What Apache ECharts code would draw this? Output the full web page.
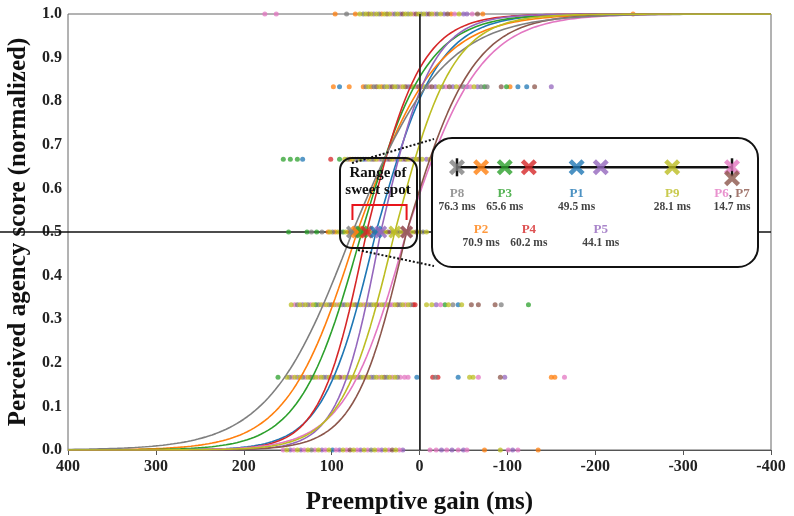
<!DOCTYPE html>
<html>
<head>
<meta charset="utf-8">
<script src="https://cdn.jsdelivr.net/npm/echarts@6/dist/echarts.min.js"></script>
<style>
html,body{margin:0;padding:0;background:#fff;}
#chart{width:794px;height:516px;}
</style>
</head>
<body>
<div id="chart"></div>
<script>
// participants
var names = ['P1','P2','P3','P4','P5','P6','P7','P8','P9'];
var colors = ['#1f77b4','#ff7f0e','#2ca02c','#d62728','#9467bd','#e377c2','#8c564b','#7f7f7f','#bcbd22'];
// 50% point of each fitted curve (ms), spread below and above it
var mids = [49.5, 70.9, 65.6, 60.2, 44.1, 14.7, 14.7, 76.3, 28.1];
var spreadsLow = [30, 40, 35, 26, 24, 35, 29, 48, 30];
var spreadsHigh = [35, 45, 37, 31, 29, 42, 38, 52, 33];

// trials: [gain, participant number] for each score level
var score0 = [[155,6],[151,9],[147,5],[143,6],[139,9],[135,5],[131,6],[127,9],[123,8],[119,6],[115,9],[111,5],[107,6],[103,9],[99,1],[95,6],[91,5],[87,9],[83,6],[79,7],[75,9],[71,6],[67,5],[63,9],[59,6],[55,8],[51,9],[47,6],[43,5],[39,9],[35,6],[31,7],[27,9],[23,6],[19,5],[-12,6],[-19,6],[-25,5],[-31,6],[-37,5],[-44,6],[-50,5],[-54,6],[-74,2],[-92,9],[-101,6],[-106,5],[-112,6],[-135,2]];
var score1 = [[161,3],[151,9],[148,8],[145,6],[142,9],[139,5],[136,9],[133,8],[130,6],[127,9],[124,7],[121,8],[118,9],[115,6],[112,9],[109,8],[106,5],[103,9],[100,6],[97,8],[94,9],[91,7],[88,6],[85,9],[82,8],[79,9],[76,6],[73,9],[70,7],[67,8],[64,9],[61,6],[58,9],[55,5],[52,8],[49,9],[46,6],[43,9],[40,7],[37,8],[34,9],[31,6],[28,9],[25,8],[22,6],[17,6],[13,6],[3,1],[-15,4],[-18,8],[-21,4],[-44,1],[-57,9],[-61,9],[-67,6],[-92,7],[-97,5],[-150,2],[-154,2],[-165,6]];
var score2 = [[146,9],[142,6],[139,8],[136,9],[133,5],[130,9],[127,8],[124,6],[121,9],[118,3],[115,8],[112,9],[109,6],[106,9],[103,8],[100,7],[97,9],[94,6],[91,9],[88,5],[85,8],[82,9],[79,6],[76,9],[73,7],[70,8],[67,9],[64,6],[61,9],[58,5],[55,8],[52,9],[49,7],[46,6],[43,9],[40,8],[37,9],[34,5],[31,6],[28,9],[25,7],[22,8],[19,9],[16,6],[13,9],[10,8],[7,4],[5,4],[-8,9],[-14,9],[-19,5],[-24,6],[-29,3],[-33,9],[-38,8],[-44,1],[-48,9],[-59,7],[-67,7],[-86,7],[-93,8],[-124,3]];
var score3 = [[149,3],[128,3],[123,8],[117,3],[111,8],[104,2],[102,9],[99,8],[96,2],[93,9],[90,8],[87,3],[84,9],[81,2],[78,8],[75,9],[72,4],[69,2],[66,9],[63,1],[60,8],[57,9],[54,5],[51,7],[48,9],[45,6],[42,8],[39,9],[36,7],[33,5],[30,9],[27,6],[24,8],[21,9],[18,7],[15,9],[12,6],[8,9],[4,7],[0,9],[-4,8],[-8,9]];
var score4 = [[155,3],[147,3],[139,3],[133,1],[101,4],[91,3],[85,9],[82,8],[79,2],[76,9],[73,5],[70,8],[67,9],[64,1],[61,5],[58,9],[55,8],[52,7],[49,9],[46,6],[43,8],[40,9],[37,5],[34,7],[31,9],[28,6],[25,8],[22,9],[19,5],[16,7],[13,9],[10,6],[7,8],[4,9],[1,7],[-3,9],[-8,5],[-12,9]];
var score5 = [[98,2],[91,1],[80,2],[64,2],[61,8],[58,9],[55,2],[52,8],[49,7],[46,9],[43,2],[40,8],[37,9],[34,5],[31,7],[28,9],[25,8],[22,6],[19,9],[16,7],[13,5],[10,8],[7,9],[4,6],[1,7],[-2,5],[-5,9],[-8,8],[-11,6],[-14,7],[-18,5],[-22,9],[-26,8],[-30,6],[-34,7],[-38,5],[-42,9],[-46,6],[-50,8],[-54,5],[-58,6],[-62,9],[-66,5],[-70,8],[-74,3],[-77,8],[-93,7],[-99,3],[-103,2],[-112,1],[-122,1],[-131,7],[-150,5]];
var score6 = [[176,6],[163,6],[96,2],[83,8],[73,2],[68,9],[64,8],[61,9],[58,7],[55,9],[52,5],[49,9],[46,8],[43,2],[40,9],[37,7],[34,9],[31,6],[28,8],[25,9],[22,5],[19,7],[16,9],[13,8],[10,9],[7,6],[4,7],[1,9],[-2,8],[-5,9],[-8,5],[-11,7],[-14,9],[-17,6],[-20,8],[-24,9],[-28,5],[-32,7],[-36,2],[-40,6],[-45,9],[-50,5],[-54,5],[-60,6],[-66,7],[-72,2],[-243,2]];
var scoreRows = [score0, score1, score2, score3, score4, score5, score6];

// inset layout: draw order, label below the line, stacked row
var insetOrder = [7,1,2,3,0,4,8,5,6];
var labelLow = [0,1,0,1,1,0,0,0,0];
var stackRow = [0,0,0,0,0,0,1,0,0];

var FONT = 'Liberation Serif';
var xMark = 'path://M2,0 L5,3 L8,0 L10,2 L7,5 L10,8 L8,10 L5,7 L2,10 L0,8 L3,5 L0,2 Z';

var chart = echarts.init(document.getElementById('chart'));

var trials = names.map(function(){ return []; });
scoreRows.forEach(function(row, k){
  row.forEach(function(t){ trials[t[1]-1].push([t[0], k/6]); });
});

var series = [];
names.forEach(function(n, i){
  series.push({
    type:'scatter', name:n+' trials', data:trials[i], symbolSize:5, z:2, silent:true,
    itemStyle:{color:colors[i], opacity:0.75}
  });
});
names.forEach(function(n, i){
  var pts = [];
  for (var g = -400; g <= 400; g += 4) {
    var s = g > mids[i] ? spreadsLow[i] : spreadsHigh[i];
    pts.push([g, 1/(1+Math.exp((g-mids[i])/s))]);
  }
  series.push({
    type:'line', name:n, data:pts, showSymbol:false, z:3, silent:true,
    lineStyle:{color:colors[i], width:1.6}
  });
});
series[9].markLine = {
  silent:true, symbol:'none', label:{show:false},
  lineStyle:{color:'#222', width:1.6, type:'solid'},
  data:[{xAxis:0}]
};
// crosses at 50%
series.push({
  type:'scatter', z:4, silent:true, symbol:xMark, symbolSize:13,
  data: insetOrder.map(function(i){
    return {value:[mids[i], 0.5], itemStyle:{color:colors[i]}};
  })
});
// inset
series.push({
  type:'line', xAxisIndex:1, yAxisIndex:1, z:11, silent:true,
  data:[[mids[7],0.5],[mids[5],0.5]],
  symbol:'rect', symbolSize:[2.5,18], itemStyle:{color:'#111'},
  lineStyle:{color:'#111', width:2.5},
  markLine:{
    silent:true, symbol:'none', label:{show:false},
    lineStyle:{color:'#999', width:1, type:'dotted'},
    data: names.map(function(n,i){ return i; }).filter(function(i){ return labelLow[i]; }).map(function(i){
      return [{coord:[mids[i],0.5]},{coord:[mids[i],-0.87]}];
    })
  }
});
series.push({
  type:'scatter', xAxisIndex:1, yAxisIndex:1, z:12, silent:true,
  symbol:xMark, symbolSize:16,
  data: insetOrder.map(function(i){
    var lab;
    var rich = {
      n:{fontFamily:FONT, fontWeight:'bold', fontSize:13, color:colors[i], lineHeight:14},
      a:{fontFamily:FONT, fontWeight:'bold', fontSize:13, color:colors[5], lineHeight:14},
      c:{fontFamily:FONT, fontWeight:'bold', fontSize:13, color:'#111', lineHeight:14},
      b:{fontFamily:FONT, fontWeight:'bold', fontSize:13, color:colors[6], lineHeight:14},
      v:{fontFamily:FONT, fontWeight:'bold', fontSize:11.5, color:'#111', lineHeight:14}
    };
    var val = mids[i].toFixed(1) + ' ms';
    if (i === 5) lab = {show:false};
    else if (i === 6) lab = {show:true, position:'bottom', distance:0, formatter:'{a|P6}{c|, }{b|P7}\n{v|'+val+'}', rich:rich};
    else lab = {show:true, position:'bottom', distance: labelLow[i] ? 47 : 11, formatter:'{n|'+names[i]+'}\n{v|'+val+'}', rich:rich};
    return {value:[mids[i], 0.5 - stackRow[i]*0.275], itemStyle:{color:colors[i]}, label:lab};
  })
});

var axisFont = {fontFamily:FONT, fontWeight:'bold', fontSize:16, color:'#222'};

var option = {
  animation:false,
  backgroundColor:'#fff',
  grid:[
    {left:68, right:23, top:14, bottom:66, show:true, borderColor:'#666', borderWidth:1,
     containLabel:false, outerBoundsMode:'none'},
    {left:436, right:41, top:147.3, height:120, containLabel:false, outerBoundsMode:'none'}
  ],
  xAxis:[
    {type:'value', gridIndex:0, min:-400, max:400, interval:100, inverse:true,
     name:'Preemptive gain (ms)', nameLocation:'middle', nameGap:40,
     nameTextStyle:{fontFamily:FONT, fontWeight:'bold', fontSize:25, color:'#111'},
     axisLine:{lineStyle:{color:'#555'}},
     axisTick:{show:true, inside:false, length:5, lineStyle:{color:'#555'}},
     axisLabel:Object.assign({margin:9}, axisFont),
     splitLine:{show:false}},
    {type:'value', gridIndex:1, min:10, max:81, inverse:true, show:false}
  ],
  yAxis:[
    {type:'value', gridIndex:0, min:0, max:1, interval:0.1,
     name:'Perceived agency score (normalized)', nameLocation:'middle', nameGap:37,
     nameTextStyle:{fontFamily:FONT, fontWeight:'bold', fontSize:25, color:'#111'},
     axisLine:{lineStyle:{color:'#555'}},
     axisTick:{show:false},
     axisLabel:Object.assign({margin:6, formatter:function(v){ return v.toFixed(1); }}, axisFont),
     splitLine:{show:false}},
    {type:'value', gridIndex:1, min:-2, max:1, show:false}
  ],
  series:series
};
chart.setOption(option);

// annotations
var yHalf = chart.convertToPixel({yAxisIndex:0}, 0.5);
var xRight = chart.convertToPixel({xAxisIndex:0}, -400);
var xLo = chart.convertToPixel({xAxisIndex:0}, Math.max.apply(null, mids));
var xHi = chart.convertToPixel({xAxisIndex:0}, Math.min.apply(null, mids));

chart.setOption({
  graphic:[
    {type:'line', z:1, shape:{x1:0, y1:yHalf, x2:xRight, y2:yHalf}, style:{stroke:'#111', lineWidth:1.5}},
    {type:'rect', z:6, shape:{x:340, y:158, width:77, height:90, r:12}, style:{fill:'none', stroke:'#111', lineWidth:2}},
    {type:'text', z:6, style:{text:'Range of\nsweet spot', x:378, y:165, align:'center', textAlign:'center', font:'bold 15px "Liberation Serif"', lineHeight:17, fill:'#111'}},
    {type:'polyline', z:6, shape:{points:[[xLo,220],[xLo,205],[xHi,205],[xHi,220]]}, style:{fill:'none', stroke:'#e8141b', lineWidth:2}},
    {type:'line', z:6, shape:{x1:352, y1:163, x2:434, y2:139}, style:{stroke:'#111', lineWidth:2, lineDash:[2,2]}},
    {type:'line', z:6, shape:{x1:358, y1:250, x2:434, y2:266}, style:{stroke:'#111', lineWidth:2, lineDash:[2,2]}},
    {type:'rect', z:8, shape:{x:432, y:138, width:326, height:129, r:20}, style:{fill:'#fff', stroke:'#111', lineWidth:2}}
  ]
});
</script>
</body>
</html>
